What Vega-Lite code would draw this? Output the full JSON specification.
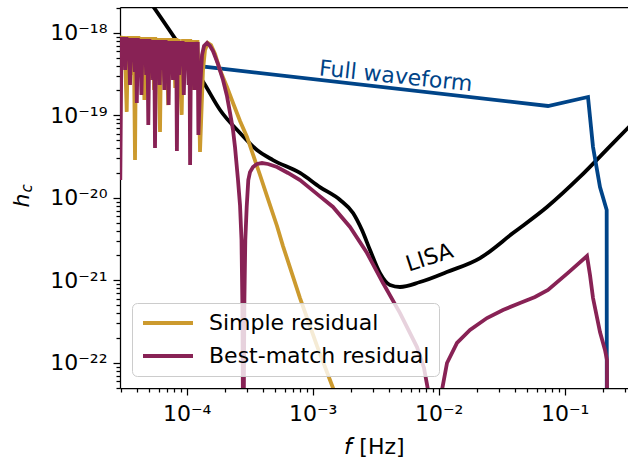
{
  "$schema": "https://vega.github.io/schema/vega-lite/v6.json",
  "width": 508,
  "height": 381,
  "autosize": "none",
  "padding": {"left": 120, "top": 7, "right": 0, "bottom": 71},
  "background": "white",
  "config": {
    "view": {"stroke": null},
    "font": "DejaVu Sans",
    "axis": {
      "grid": false,
      "domainColor": "black",
      "domainWidth": 1.25,
      "tickColor": "black",
      "tickWidth": 1.25,
      "labelColor": "black",
      "labelFont": "DejaVu Sans",
      "labelFontSize": 22,
      "titleFont": "DejaVu Sans",
      "titleFontSize": 22,
      "titleFontWeight": "normal",
      "titleColor": "black",
      "labelFlush": false,
      "labelOverlap": false
    }
  },
  "resolve": {"axis": {"x": "independent", "y": "independent"}},
  "datasets": {
    "lisa": [
      {"f": 4.26e-5, "h": 3.54e-18}, {"f": 1.40e-4, "h": 2.33e-19}, {"f": 1.84e-4, "h": 1.16e-19},
      {"f": 2.65e-4, "h": 6.10e-20}, {"f": 3.61e-4, "h": 3.79e-20}, {"f": 4.84e-4, "h": 2.87e-20},
      {"f": 7.93e-4, "h": 2.00e-20}, {"f": 1.14e-3, "h": 1.35e-20}, {"f": 1.65e-3, "h": 9.42e-21},
      {"f": 2.09e-3, "h": 6.55e-21}, {"f": 2.46e-3, "h": 4.07e-21}, {"f": 2.85e-3, "h": 2.33e-21},
      {"f": 3.42e-3, "h": 1.22e-21}, {"f": 4.10e-3, "h": 8.77e-22}, {"f": 4.93e-3, "h": 8.30e-22},
      {"f": 7.11e-3, "h": 9.53e-22}, {"f": 1.16e-2, "h": 1.26e-21}, {"f": 2.13e-2, "h": 1.86e-21},
      {"f": 3.89e-2, "h": 3.74e-21}, {"f": 7.24e-2, "h": 7.73e-21}, {"f": 0.132, "h": 1.79e-20},
      {"f": 0.242, "h": 4.61e-20}, {"f": 0.34, "h": 7.8e-20}
    ],
    "full": [
      {"f": 2.955e-5, "h": 5.09e-19}, {"f": 7.37e-2, "h": 1.297e-19}, {"f": 0.1531, "h": 1.667e-19},
      {"f": 0.1678, "h": 4.13e-20}, {"f": 0.1906, "h": 1.352e-20}, {"f": 0.2154, "h": 7.11e-21},
      {"f": 0.2166, "h": 1e-26}
    ],
    "simple": [
      {"f": 2.971e-5, "h": 8.18e-19}, {"f": 3.043e-5, "h": 9.15e-19}, {"f": 3.111e-5, "h": 4.95e-19},
      {"f": 3.180e-5, "h": 9.15e-19}, {"f": 3.262e-5, "h": 3.96e-19}, {"f": 3.341e-5, "h": 1.10e-19},
      {"f": 3.421e-5, "h": 9.15e-19}, {"f": 3.497e-5, "h": 4.43e-19}, {"f": 3.574e-5, "h": 9.15e-19},
      {"f": 3.653e-5, "h": 3.08e-19}, {"f": 3.734e-5, "h": 9.15e-19}, {"f": 3.817e-5, "h": 4.68e-19},
      {"f": 3.888e-5, "h": 2.87e-20}, {"f": 3.960e-5, "h": 9.15e-19}, {"f": 4.048e-5, "h": 3.54e-19},
      {"f": 4.137e-5, "h": 9.15e-19}, {"f": 4.229e-5, "h": 4.18e-19}, {"f": 4.322e-5, "h": 8.89e-19},
      {"f": 4.418e-5, "h": 2.33e-19}, {"f": 4.517e-5, "h": 8.89e-19}, {"f": 4.616e-5, "h": 1.53e-19},
      {"f": 4.719e-5, "h": 8.89e-19}, {"f": 4.823e-5, "h": 3.74e-19}, {"f": 4.930e-5, "h": 8.89e-19},
      {"f": 5.040e-5, "h": 2.68e-19}, {"f": 5.152e-5, "h": 8.89e-19}, {"f": 5.266e-5, "h": 3.96e-19},
      {"f": 5.382e-5, "h": 8.89e-19}, {"f": 5.501e-5, "h": 2.03e-19}, {"f": 5.624e-5, "h": 8.89e-19},
      {"f": 5.748e-5, "h": 4.18e-19}, {"f": 5.875e-5, "h": 8.65e-19}, {"f": 6.006e-5, "h": 3.08e-19},
      {"f": 6.139e-5, "h": 6.27e-20}, {"f": 6.275e-5, "h": 8.65e-19}, {"f": 6.414e-5, "h": 3.74e-19},
      {"f": 6.556e-5, "h": 8.65e-19}, {"f": 6.702e-5, "h": 2.53e-19}, {"f": 6.850e-5, "h": 8.65e-19},
      {"f": 7.002e-5, "h": 4.18e-19}, {"f": 7.131e-5, "h": 1.33e-19}, {"f": 7.263e-5, "h": 8.65e-19},
      {"f": 7.424e-5, "h": 3.35e-19}, {"f": 7.589e-5, "h": 8.65e-19}, {"f": 7.757e-5, "h": 3.96e-19},
      {"f": 7.929e-5, "h": 8.65e-19}, {"f": 8.105e-5, "h": 2.14e-19}, {"f": 8.284e-5, "h": 8.65e-19},
      {"f": 8.468e-5, "h": 3.96e-19}, {"f": 8.656e-5, "h": 8.41e-19}, {"f": 8.848e-5, "h": 3.17e-19},
      {"f": 9.124e-5, "h": 1.01e-19}, {"f": 9.346e-5, "h": 8.41e-19}, {"f": 9.554e-5, "h": 3.54e-19},
      {"f": 9.766e-5, "h": 8.41e-19}, {"f": 9.982e-5, "h": 4.18e-19}, {"f": 1.020e-4, "h": 8.41e-19},
      {"f": 1.043e-4, "h": 2.68e-19}, {"f": 1.066e-4, "h": 8.41e-19}, {"f": 1.090e-4, "h": 3.74e-19},
      {"f": 1.114e-4, "h": 8.18e-19}, {"f": 1.139e-4, "h": 2.03e-19}, {"f": 1.164e-4, "h": 8.18e-19},
      {"f": 1.190e-4, "h": 4.43e-19}, {"f": 1.216e-4, "h": 8.18e-19}, {"f": 1.243e-4, "h": 3.08e-19},
      {"f": 1.275e-4, "h": 3.59e-20}, {"f": 1.311e-4, "h": 1.16e-19}, {"f": 1.347e-4, "h": 3.54e-19},
      {"f": 1.397e-4, "h": 6.19e-19}, {"f": 1.476e-4, "h": 7.52e-19}, {"f": 1.559e-4, "h": 7.12e-19},
      {"f": 1.678e-4, "h": 5.54e-19}, {"f": 1.838e-4, "h": 3.54e-19}, {"f": 2.088e-4, "h": 2.20e-19},
      {"f": 2.331e-4, "h": 1.41e-19}, {"f": 2.649e-4, "h": 8.53e-20}, {"f": 3.010e-4, "h": 5.46e-20},
      {"f": 3.817e-4, "h": 1.89e-20}, {"f": 4.338e-4, "h": 1.05e-20}, {"f": 5.208e-4, "h": 4.55e-21},
      {"f": 5.811e-4, "h": 2.60e-21}, {"f": 7.929e-4, "h": 6.10e-22}, {"f": 1.082e-3, "h": 1.60e-22},
      {"f": 1.449e-3, "h": 4.95e-23}, {"f": 1.977e-3, "h": 1.37e-23}
    ],
    "best": [
      {"f": 2.971e-5, "h": 1.64e-20}, {"f": 3.037e-5, "h": 8.89e-19}, {"f": 3.105e-5, "h": 4.43e-19},
      {"f": 3.180e-5, "h": 8.89e-19}, {"f": 3.250e-5, "h": 3.54e-19}, {"f": 3.322e-5, "h": 8.89e-19},
      {"f": 3.396e-5, "h": 4.95e-19}, {"f": 3.471e-5, "h": 8.65e-19}, {"f": 3.548e-5, "h": 2.33e-19},
      {"f": 3.627e-5, "h": 8.65e-19}, {"f": 3.707e-5, "h": 4.68e-19}, {"f": 3.789e-5, "h": 8.65e-19},
      {"f": 3.874e-5, "h": 3.35e-19}, {"f": 3.960e-5, "h": 8.65e-19}, {"f": 4.018e-5, "h": 1.41e-19},
      {"f": 4.092e-5, "h": 8.65e-19}, {"f": 4.183e-5, "h": 3.96e-19}, {"f": 4.276e-5, "h": 8.41e-19},
      {"f": 4.370e-5, "h": 1.76e-19}, {"f": 4.467e-5, "h": 8.41e-19}, {"f": 4.566e-5, "h": 4.43e-19},
      {"f": 4.667e-5, "h": 8.41e-19}, {"f": 4.771e-5, "h": 3.08e-19}, {"f": 4.877e-5, "h": 8.41e-19},
      {"f": 4.957e-5, "h": 7.63e-20}, {"f": 5.058e-5, "h": 8.41e-19}, {"f": 5.170e-5, "h": 4.07e-19},
      {"f": 5.285e-5, "h": 8.18e-19}, {"f": 5.401e-5, "h": 2.68e-19}, {"f": 5.521e-5, "h": 8.18e-19},
      {"f": 5.603e-5, "h": 4.01e-20}, {"f": 5.706e-5, "h": 8.18e-19}, {"f": 5.832e-5, "h": 3.74e-19},
      {"f": 5.962e-5, "h": 8.18e-19}, {"f": 6.095e-5, "h": 2.33e-19}, {"f": 6.229e-5, "h": 8.18e-19},
      {"f": 6.367e-5, "h": 3.54e-19}, {"f": 6.509e-5, "h": 8.18e-19}, {"f": 6.653e-5, "h": 2.03e-19},
      {"f": 6.800e-5, "h": 8.18e-19}, {"f": 6.952e-5, "h": 4.18e-19}, {"f": 7.105e-5, "h": 7.96e-19},
      {"f": 7.184e-5, "h": 1.33e-19}, {"f": 7.290e-5, "h": 7.96e-19}, {"f": 7.452e-5, "h": 3.54e-19},
      {"f": 7.616e-5, "h": 7.96e-19}, {"f": 7.785e-5, "h": 2.68e-19}, {"f": 7.958e-5, "h": 7.96e-19},
      {"f": 8.105e-5, "h": 4.43e-19}, {"f": 8.254e-5, "h": 7.96e-19}, {"f": 8.360e-5, "h": 3.69e-20},
      {"f": 8.499e-5, "h": 7.96e-19}, {"f": 8.688e-5, "h": 3.08e-19}, {"f": 8.880e-5, "h": 7.96e-19},
      {"f": 9.077e-5, "h": 3.96e-19}, {"f": 9.278e-5, "h": 7.96e-19}, {"f": 9.484e-5, "h": 1.76e-19},
      {"f": 9.694e-5, "h": 7.74e-19}, {"f": 9.909e-5, "h": 3.54e-19}, {"f": 1.013e-4, "h": 7.74e-19},
      {"f": 1.035e-4, "h": 2.33e-19}, {"f": 1.052e-4, "h": 7.74e-19}, {"f": 1.064e-4, "h": 2.50e-20},
      {"f": 1.082e-4, "h": 7.74e-19}, {"f": 1.106e-4, "h": 3.35e-19}, {"f": 1.131e-4, "h": 7.74e-19},
      {"f": 1.156e-4, "h": 2.03e-19}, {"f": 1.181e-4, "h": 7.74e-19}, {"f": 1.207e-4, "h": 4.68e-19},
      {"f": 1.223e-4, "h": 7.74e-19}, {"f": 1.238e-4, "h": 5.77e-20}, {"f": 1.275e-4, "h": 2.03e-19},
      {"f": 1.323e-4, "h": 5.38e-19}, {"f": 1.372e-4, "h": 6.92e-19}, {"f": 1.449e-4, "h": 7.52e-19},
      {"f": 1.531e-4, "h": 6.92e-19}, {"f": 1.617e-4, "h": 6.02e-19}, {"f": 1.772e-4, "h": 4.18e-19},
      {"f": 1.942e-4, "h": 2.68e-19}, {"f": 2.088e-4, "h": 1.71e-19}, {"f": 2.207e-4, "h": 1.07e-19},
      {"f": 2.331e-4, "h": 6.63e-20}, {"f": 2.417e-4, "h": 4.13e-20}, {"f": 2.554e-4, "h": 1.64e-20},
      {"f": 2.649e-4, "h": 8.18e-21}, {"f": 2.722e-4, "h": 3.08e-21}, {"f": 2.763e-4, "h": 5.77e-22},
      {"f": 2.793e-4, "h": 3.54e-23}, {"f": 2.813e-4, "h": 1.33e-25}, {"f": 2.839e-4, "h": 3.54e-23},
      {"f": 2.870e-4, "h": 5.77e-22}, {"f": 2.918e-4, "h": 3.08e-21}, {"f": 2.993e-4, "h": 7.74e-21},
      {"f": 3.082e-4, "h": 1.64e-20}, {"f": 3.179e-4, "h": 2.05e-20}, {"f": 3.358e-4, "h": 2.36e-20},
      {"f": 3.614e-4, "h": 2.57e-20}, {"f": 3.959e-4, "h": 2.64e-20}, {"f": 4.418e-4, "h": 2.57e-20},
      {"f": 5.208e-4, "h": 2.36e-20}, {"f": 6.368e-4, "h": 2.00e-20}, {"f": 7.929e-4, "h": 1.64e-20},
      {"f": 1.062e-3, "h": 1.14e-20}, {"f": 1.449e-3, "h": 7.74e-21}, {"f": 1.977e-3, "h": 4.43e-21},
      {"f": 2.698e-3, "h": 2.14e-21}, {"f": 3.614e-3, "h": 9.27e-22}, {"f": 4.931e-3, "h": 4.01e-22},
      {"f": 6.727e-3, "h": 1.55e-22}, {"f": 7.643e-3, "h": 8.65e-23}, {"f": 8.226e-3, "h": 4.68e-23},
      {"f": 8.689e-3, "h": 1.53e-23}, {"f": 9.262e-3, "h": 1.33e-25}, {"f": 9.873e-3, "h": 1.53e-23},
      {"f": 1.062e-2, "h": 4.68e-23}, {"f": 1.164e-2, "h": 9.94e-23}, {"f": 1.397e-2, "h": 1.74e-22},
      {"f": 1.772e-2, "h": 2.50e-22}, {"f": 2.417e-2, "h": 3.49e-22}, {"f": 3.238e-2, "h": 4.37e-22},
      {"f": 4.418e-2, "h": 5.31e-22}, {"f": 5.811e-2, "h": 6.27e-22}, {"f": 7.370e-2, "h": 7.63e-22},
      {"f": 0.1062, "h": 1.23e-21}, {"f": 0.1503, "h": 1.97e-21}, {"f": 0.1588, "h": 1.16e-21},
      {"f": 0.1678, "h": 6.10e-22}, {"f": 0.1906, "h": 2.36e-22}, {"f": 0.2088, "h": 1.43e-22},
      {"f": 0.2166, "h": 1.08e-22}, {"f": 0.2186, "h": 1e-26}
    ],
    "fwlabel": [{"f": 4.50e-3, "h": 2.45e-19, "label": "Full waveform"}],
    "lisalabel": [{"f": 8.80e-3, "h": 1.567e-21, "label": "LISA"}]
  },
  "layer": [
    {
      "data": {"name": "lisa"},
      "mark": {"type": "line", "color": "black", "strokeWidth": 3.8, "interpolate": "monotone", "clip": true},
      "encoding": {
        "x": {
          "field": "f", "type": "quantitative",
          "scale": {"type": "log", "domain": [2.955e-5, 0.318], "nice": false},
          "axis": {
            "orient": "bottom",
            "values": [1e-4, 1e-3, 1e-2, 1e-1],
            "tickSize": 7,
            "labelPadding": 8,
            "labelExpr": "datum.value < 5e-4 ? '10⁻⁴' : datum.value < 5e-3 ? '10⁻³' : datum.value < 5e-2 ? '10⁻²' : '10⁻¹'",
            "title": "𝘧 [Hz]",
            "titleX": 254,
            "titleY": 65,
            "titleAlign": "center",
            "titleBaseline": "alphabetic"
          }
        },
        "y": {
          "field": "h", "type": "quantitative",
          "scale": {"type": "log", "domain": [4.95e-23, 2.055e-18], "nice": false},
          "axis": {
            "orient": "left",
            "values": [1e-22, 1e-21, 1e-20, 1e-19, 1e-18],
            "tickSize": 7,
            "labelPadding": 6,
            "labelExpr": "datum.value < 5e-22 ? '10⁻²²' : datum.value < 5e-21 ? '10⁻²¹' : datum.value < 5e-20 ? '10⁻²⁰' : datum.value < 5e-19 ? '10⁻¹⁹' : '10⁻¹⁸'",
            "title": "h",
            "titleFontStyle": "italic",
            "titleAngle": 270,
            "titleX": -92,
            "titleY": 193,
            "titleAlign": "center",
            "titleBaseline": "alphabetic"
          }
        }
      }
    },
    {
      "data": {"name": "full"},
      "mark": {"type": "line", "color": "#004488", "strokeWidth": 3.8, "clip": true},
      "encoding": {
        "x": {
          "field": "f", "type": "quantitative",
          "scale": {"type": "log", "domain": [2.955e-5, 0.318], "nice": false},
          "axis": {
            "orient": "bottom",
            "values": [3e-5, 4e-5, 5e-5, 6e-5, 7e-5, 8e-5, 9e-5, 2e-4, 3e-4, 4e-4, 5e-4, 6e-4, 7e-4, 8e-4, 9e-4, 2e-3, 3e-3, 4e-3, 5e-3, 6e-3, 7e-3, 8e-3, 9e-3, 2e-2, 3e-2, 4e-2, 5e-2, 6e-2, 7e-2, 8e-2, 9e-2, 0.2, 0.3],
            "tickSize": 4,
            "labels": false,
            "domain": false,
            "title": null
          }
        },
        "y": {
          "field": "h", "type": "quantitative",
          "scale": {"type": "log", "domain": [4.95e-23, 2.055e-18], "nice": false},
          "axis": {
            "orient": "left",
            "values": [5e-23, 6e-23, 7e-23, 8e-23, 9e-23, 2e-22, 3e-22, 4e-22, 5e-22, 6e-22, 7e-22, 8e-22, 9e-22, 2e-21, 3e-21, 4e-21, 5e-21, 6e-21, 7e-21, 8e-21, 9e-21, 2e-20, 3e-20, 4e-20, 5e-20, 6e-20, 7e-20, 8e-20, 9e-20, 2e-19, 3e-19, 4e-19, 5e-19, 6e-19, 7e-19, 8e-19, 9e-19, 2e-18],
            "tickSize": 4,
            "labels": false,
            "domain": false,
            "title": "c",
            "titleFontSize": 15,
            "titleFontStyle": "italic",
            "titleAngle": 270,
            "titleX": -89,
            "titleY": 185,
            "titleAlign": "left",
            "titleBaseline": "alphabetic"
          }
        }
      }
    },
    {
      "data": {"name": "simple"},
      "mark": {"type": "line", "strokeWidth": 3.8, "clip": true},
      "encoding": {
        "x": {
          "field": "f", "type": "quantitative",
          "scale": {"type": "log", "domain": [2.955e-5, 0.318], "nice": false},
          "axis": {"orient": "top", "ticks": false, "labels": false, "domain": true, "title": null}
        },
        "y": {
          "field": "h", "type": "quantitative",
          "scale": {"type": "log", "domain": [4.95e-23, 2.055e-18], "nice": false},
          "axis": null
        },
        "color": {
          "datum": "Simple residual",
          "type": "nominal",
          "scale": {"domain": ["Simple residual", "Best-match residual"], "range": ["#CC9A2E", "#882255"]},
          "legend": {
            "title": null,
            "orient": "bottom-left",
            "offset": 12,
            "fillColor": "rgba(255,255,255,0.8)",
            "strokeColor": "#cccccc",
            "cornerRadius": 5,
            "padding": 9,
            "symbolType": "stroke",
            "symbolStrokeWidth": 3.8,
            "symbolSize": 2500,
            "clipHeight": 22,
            "labelFont": "DejaVu Sans",
            "labelFontSize": 22,
            "labelColor": "black",
            "labelOffset": 14,
            "rowPadding": 11,
            "labelLimit": 400
          }
        }
      }
    },
    {
      "data": {"name": "best"},
      "mark": {"type": "line", "strokeWidth": 3.8, "clip": true},
      "encoding": {
        "x": {
          "field": "f", "type": "quantitative",
          "scale": {"type": "log", "domain": [2.955e-5, 0.318], "nice": false},
          "axis": null
        },
        "y": {
          "field": "h", "type": "quantitative",
          "scale": {"type": "log", "domain": [4.95e-23, 2.055e-18], "nice": false},
          "axis": null
        },
        "color": {
          "datum": "Best-match residual",
          "type": "nominal",
          "scale": {"domain": ["Simple residual", "Best-match residual"], "range": ["#CC9A2E", "#882255"]}
        }
      }
    },
    {
      "data": {"name": "fwlabel"},
      "mark": {"type": "text", "angle": 6, "font": "DejaVu Sans", "fontSize": 22, "color": "#004488", "align": "center", "baseline": "alphabetic"},
      "encoding": {
        "x": {"field": "f", "type": "quantitative", "scale": {"type": "log", "domain": [2.955e-5, 0.318], "nice": false}, "axis": null},
        "y": {"field": "h", "type": "quantitative", "scale": {"type": "log", "domain": [4.95e-23, 2.055e-18], "nice": false}, "axis": null},
        "text": {"field": "label"}
      }
    },
    {
      "data": {"name": "lisalabel"},
      "mark": {"type": "text", "angle": -18, "font": "DejaVu Sans", "fontSize": 22, "color": "black", "align": "center", "baseline": "alphabetic"},
      "encoding": {
        "x": {"field": "f", "type": "quantitative", "scale": {"type": "log", "domain": [2.955e-5, 0.318], "nice": false}, "axis": null},
        "y": {"field": "h", "type": "quantitative", "scale": {"type": "log", "domain": [4.95e-23, 2.055e-18], "nice": false}, "axis": null},
        "text": {"field": "label"}
      }
    }
  ]
}
